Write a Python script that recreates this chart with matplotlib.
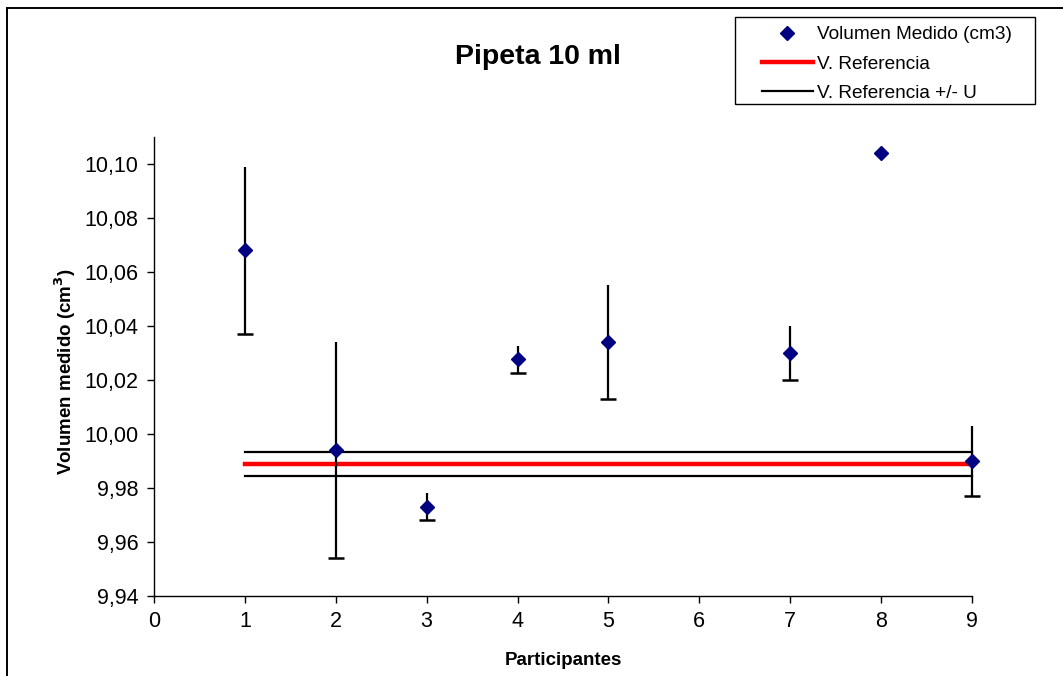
import numpy as np
import matplotlib.pyplot as plt
from matplotlib.lines import Line2D
from matplotlib.patches import Rectangle
from matplotlib.ticker import FuncFormatter, MultipleLocator

plt.rcParams["font.family"] = ["Liberation Sans", "DejaVu Sans"]

# datos
PARTICIPANTES = [1, 2, 3, 4, 5, 7, 8, 9]
VOLUMEN = [10.068, 9.994, 9.973, 10.0276, 10.034, 10.030, 10.104, 9.990]
INCERT = [0.031, 0.040, 0.005, 0.005, 0.021, 0.010, 0.0, 0.0128]
V_REF = 9.9889
U_REF = 0.0046
REF_X = [1, 9]

NAVY = "#000080"
W, H = 1063, 676

fig = plt.figure(figsize=(W / 100, H / 100), dpi=100)
ax = fig.add_axes([154 / W, 1 - 596 / H, (972 - 154) / W, (596 - 137) / H])

x = np.array(PARTICIPANTES, dtype=float)
y = np.array(VOLUMEN)
u = np.array(INCERT)

# barras de error (sin remate arriba, remate solo abajo)
eb = ax.errorbar(x, y, yerr=u, fmt="none", ecolor="black", elinewidth=1.6, capsize=0, zorder=3)
for c in eb.lines[2]:
    c.set_clip_on(False)
has_u = u > 0
ax.plot(x[has_u], (y - u)[has_u], linestyle="none", marker="_", markersize=11,
        markeredgewidth=1.8, color="black", zorder=3, clip_on=False)

ref = np.full(len(REF_X), V_REF)
ax.plot(REF_X, ref + U_REF, color="black", lw=1.6, zorder=2, clip_on=False)
ax.plot(REF_X, ref - U_REF, color="black", lw=1.6, zorder=2, clip_on=False)
ax.plot(REF_X, ref, color="red", lw=3.2, zorder=2, clip_on=False)

ax.plot(x, y, linestyle="none", marker="D", markersize=7.2, color=NAVY,
        markeredgecolor=NAVY, zorder=4, clip_on=False)

ax.set_xlim(0, 9)
ax.set_ylim(9.94, 10.11)
ax.xaxis.set_major_locator(MultipleLocator(1))
ax.set_yticks(np.arange(9.94, 10.101, 0.02))
ax.yaxis.set_major_formatter(FuncFormatter(lambda v, p: f"{v:.2f}".replace(".", ",")))

for s in ("top", "right"):
    ax.spines[s].set_visible(False)
for s in ("left", "bottom"):
    ax.spines[s].set_linewidth(1.0)
ax.tick_params(direction="out", length=5, width=1.0, labelsize=15.5, pad=6)

ax.set_xlabel("Participantes", fontsize=13.5, fontweight="bold", labelpad=14)
ax.set_ylabel("Volumen medido (cm$^\\mathbf{3}$)", fontsize=13.5, fontweight="bold")
ax.yaxis.set_label_coords(-0.093, (H - 372 - 80) / (596 - 137))

fig.text(538 / W, 1 - 57 / H, "Pipeta 10 ml", fontsize=20.5, fontweight="bold",
         ha="center", va="center")

# leyenda
handles = [
    Line2D([], [], linestyle="none", marker="D", markersize=7.2, color=NAVY),
    Line2D([], [], color="red", lw=3.2),
    Line2D([], [], color="black", lw=1.6),
]
labels = ["Volumen Medido (cm3)", "V. Referencia", "V. Referencia +/- U"]
fig.legend(handles, labels, loc="upper left",
           bbox_to_anchor=(762 / W, 1 - 26 / H), fontsize=13.7,
           frameon=False, borderpad=0, handlelength=2.68, handletextpad=0.2,
           labelspacing=0.63, borderaxespad=0)
fig.add_artist(Rectangle((735 / W, 1 - 104 / H), 300 / W, 87 / H, transform=fig.transFigure,
                         fill=False, edgecolor="black", lw=1.0))

# marco del grafico
fig.add_artist(Line2D([7 / W, 7 / W], [-0.01, 1 - 7.5 / H], color="black", lw=1.4))
fig.add_artist(Line2D([7 / W, 1.01], [1 - 7.5 / H, 1 - 7.5 / H], color="black", lw=1.4))

fig.savefig("out.png", dpi=100, facecolor="white")
